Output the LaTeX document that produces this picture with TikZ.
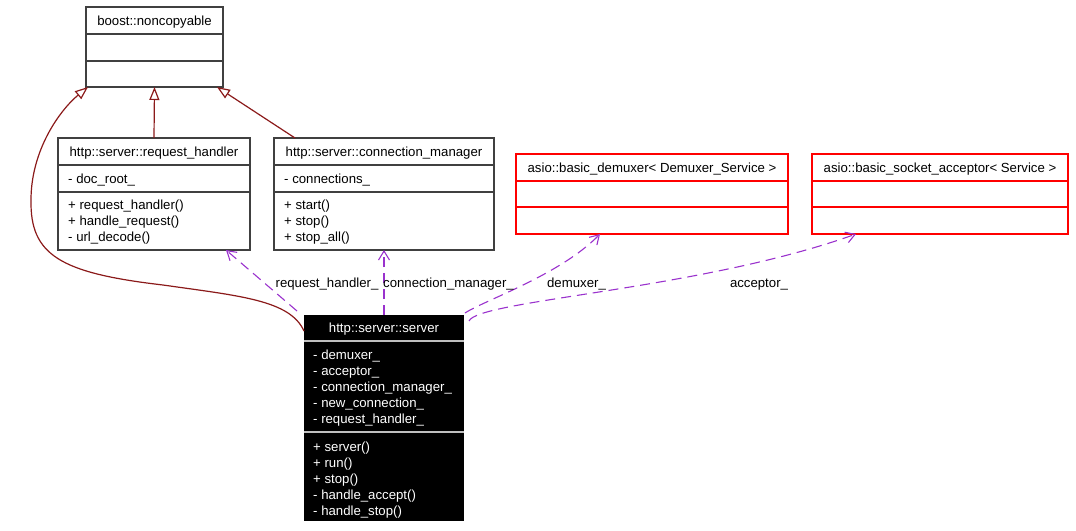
\documentclass[tikz,border=0pt]{standalone}
\usepackage{fontspec}
\setmainfont{Liberation Sans}
\usepackage{tikz,xcolor}
\usetikzlibrary{arrows.meta,calc}
\definecolor{inhred}{HTML}{8B1A1A}
\definecolor{usepurple}{HTML}{9A32CD}
\definecolor{boxgray}{HTML}{404040}

\begin{document}
\begin{tikzpicture}[x=1pt,y=-1pt,
  every node/.style={font=\fontsize{13.2pt}{16pt}\selectfont},
  classbox/.style={draw=boxgray, line width=1.4pt, inner sep=0pt, outer sep=0pt},
  tmplbox/.style={draw=red, line width=1.4pt, inner sep=0pt, outer sep=0pt},
  rowtext/.style={anchor=base west, inner sep=0pt},
  inherits/.style={draw=inhred, line width=1.2pt, -{Triangle[open, length=13pt, width=10pt]}},
  uses/.style={draw=usepurple, line width=1.1pt, dash pattern=on 10pt off 6pt, -{Straight Barb[length=9pt, width=11pt]}}]
\useasboundingbox (0,0) rectangle (1076,530);

% Draw the base class box
\node[classbox, minimum width=137pt, minimum height=80pt] (nc) at (154.5,47) {};
\draw[boxgray, line width=1.4pt] ([yshift=-27pt]nc.north west) -- ([yshift=-27pt]nc.north east);
\draw[boxgray, line width=1.4pt] ([yshift=-54pt]nc.north west) -- ([yshift=-54pt]nc.north east);
\node[anchor=base] (nctitle) at (154.5,25) {boost::noncopyable};

% Draw the request handler box
\node[classbox, minimum width=192pt, minimum height=112pt] (rh) at (154,194) {};
\draw[boxgray, line width=1.4pt] ([yshift=-27pt]rh.north west) -- ([yshift=-27pt]rh.north east);
\draw[boxgray, line width=1.4pt] ([yshift=-54pt]rh.north west) -- ([yshift=-54pt]rh.north east);
\node[anchor=base] (rhtitle) at (154,156.5) {http::server::request\_handler};
\node[rowtext] (rhattr) at (68,183.3) {- doc\_root\_};
\foreach \txt [count=\i] in {+ request\_handler(), + handle\_request(), - url\_decode()}
  \node[rowtext] (rhop\i) at (68,{209.3+16*(\i-1)}) {\txt};

% Draw the connection manager box
\node[classbox, minimum width=220pt, minimum height=112pt] (cm) at (384,194) {};
\draw[boxgray, line width=1.4pt] ([yshift=-27pt]cm.north west) -- ([yshift=-27pt]cm.north east);
\draw[boxgray, line width=1.4pt] ([yshift=-54pt]cm.north west) -- ([yshift=-54pt]cm.north east);
\node[anchor=base] (cmtitle) at (384,156.5) {http::server::connection\_manager};
\node[rowtext] (cmattr) at (284,183.3) {- connections\_};
\foreach \txt [count=\i] in {+ start(), + stop(), + stop\_all()}
  \node[rowtext] (cmop\i) at (284,{209.3+16*(\i-1)}) {\txt};

% Draw the two template boxes in red
\node[tmplbox, minimum width=272pt, minimum height=80pt] (dm) at (652,194) {};
\draw[red, line width=1.4pt] ([yshift=-27pt]dm.north west) -- ([yshift=-27pt]dm.north east);
\draw[red, line width=1.4pt] ([yshift=-53pt]dm.north west) -- ([yshift=-53pt]dm.north east);
\node[anchor=base] (dmtitle) at (652,172) {asio::basic\_demuxer< Demuxer\_Service >};

\node[tmplbox, minimum width=256pt, minimum height=80pt] (ac) at (940,194) {};
\draw[red, line width=1.4pt] ([yshift=-27pt]ac.north west) -- ([yshift=-27pt]ac.north east);
\draw[red, line width=1.4pt] ([yshift=-53pt]ac.north west) -- ([yshift=-53pt]ac.north east);
\node[anchor=base] (actitle) at (940,172) {asio::basic\_socket\_acceptor< Service >};

% Draw the server box, black with white text
\node[fill=black, inner sep=0pt, outer sep=0pt, minimum width=160pt, minimum height=206pt] (srv) at (384,418) {};
\draw[black!25, line width=1.4pt] ([yshift=-26pt]srv.north west) -- ([yshift=-26pt]srv.north east);
\draw[black!25, line width=1.4pt] ([yshift=-117pt]srv.north west) -- ([yshift=-117pt]srv.north east);
\node[anchor=base, text=white] (srvtitle) at (384,332.3) {http::server::server};
\foreach \txt [count=\i] in {- demuxer\_, - acceptor\_, - connection\_manager\_, - new\_connection\_, - request\_handler\_}
  \node[rowtext, text=white] (srvattr\i) at (313,{359.5+16*(\i-1)}) {\txt};
\foreach \txt [count=\i] in {+ server(), + run(), + stop(), - handle\_accept(), - handle\_stop()}
  \node[rowtext, text=white] (srvop\i) at (313,{451+16*(\i-1)}) {\txt};

% Draw the inheritance arrows
\draw[inherits] (rh.north) -- (nc.south);
\draw[inherits] ([xshift=21pt]cm.north west) -- ([xshift=-6pt]nc.south east);
\draw[inherits] ([yshift=-16pt]srv.north west) .. controls (290,300) and (240,296) .. (163,285)
  .. controls (60,273) and (30,255) .. (31,200)
  .. controls (31,150) and (60,110) .. ([xshift=2pt]nc.south west);

% Draw the dashed usage arrows and their labels
\draw[uses] ([xshift=-7pt,yshift=4pt]srv.north west) -- ([xshift=-24pt]rh.south east);
\draw[uses] (srv.north) -- (cm.south);
\draw[uses] ([xshift=1pt,yshift=2pt]srv.north east) .. controls (485,300) and (560,275) .. ([xshift=84pt]dm.south west);
\draw[uses] ([xshift=5pt,yshift=-6pt]srv.north east) .. controls (478,300) and (700,290) .. ([xshift=44pt]ac.south west);
\node[anchor=base] (lblrh) at (327,287) {request\_handler\_};
\node[anchor=base] (lblcm) at (448.5,287) {connection\_manager\_};
\node[anchor=base] (lbldm) at (576.5,287) {demuxer\_};
\node[anchor=base] (lblac) at (759,287) {acceptor\_};
\end{tikzpicture}
\end{document}
